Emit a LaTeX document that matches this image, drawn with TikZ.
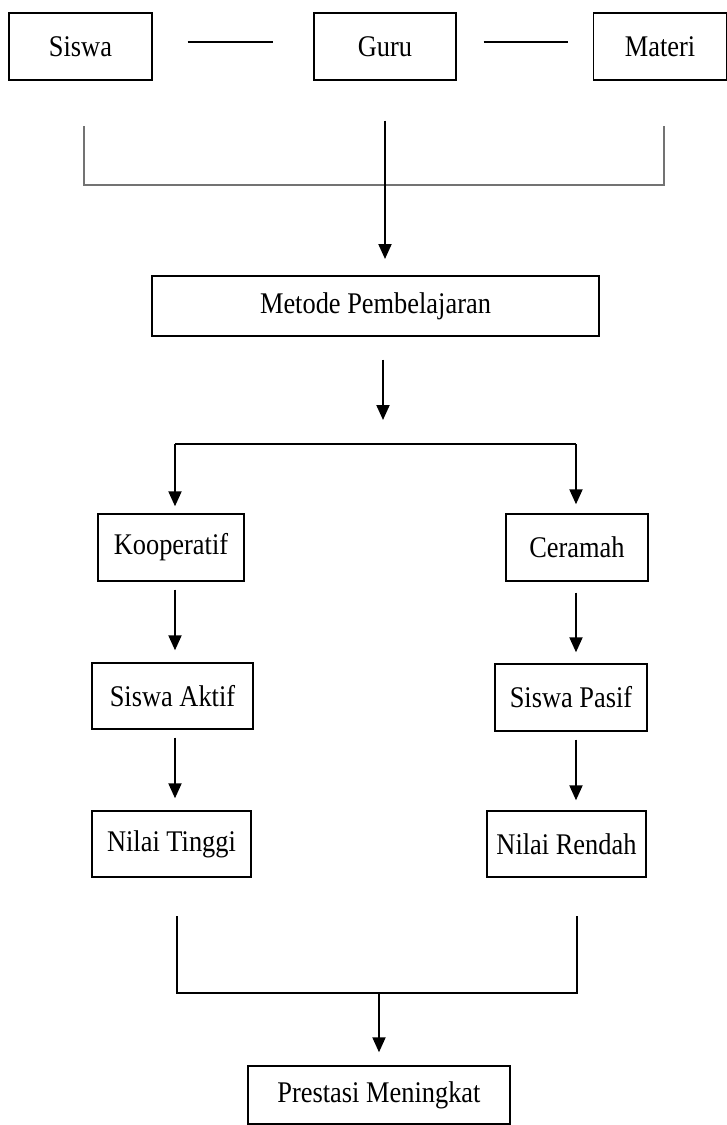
\documentclass[tikz,border=0pt]{standalone}
\usepackage{fontspec}
\setmainfont[FakeStretch=0.88]{Liberation Serif}
\usepackage{tikz}
\usetikzlibrary{arrows.meta,positioning,calc}
\tikzstyle{box} = [draw,line width=0.7pt,inner sep=1pt,align=center,font=\fontsize{15}{18}\selectfont]
\tikzstyle{line} = [line width=0.75pt]
\tikzstyle{bracket} = [line width=0.6pt,black!55]
\tikzstyle{arrow} = [line width=1pt,-{Triangle[width=6.5pt,length=7.5pt]}]

\begin{document}
\begin{tikzpicture}[x=0.5pt,y=-0.5pt]
\useasboundingbox (0,0) rectangle (727,1125);
% baris atas
\node[box,minimum width=71.5pt,minimum height=33.5pt] (siswa) at (80.5,46.5) {Siswa};
\node[box,minimum width=71pt,minimum height=33.5pt] (guru) at (385,46.5) {Guru};
\node[box,minimum width=66.5pt,minimum height=33.5pt] (materi) at (660,46.5) {Materi};
\draw[line,shorten <=17.5pt,shorten >=20pt] ([yshift=2.25pt]siswa.east) -- ([yshift=2.25pt]guru.west);
\draw[line,shorten <=13.5pt,shorten >=12.5pt] ([yshift=2.25pt]guru.east) -- ([yshift=2.25pt]materi.west);
% kurung atas
\coordinate (kiriatas) at (84,126);
\coordinate (kananatas) at (664,126);
\draw[bracket] (kiriatas) |- (kananatas |- 0,185) -- (kananatas);
\draw[arrow,shorten <=20pt,shorten >=8.5pt] (guru.south) -- (guru.south |- 0,276);
% metode
\node[box,minimum width=223.5pt,minimum height=30pt] (metode) at (375.5,306) {Metode Pembelajaran};
\coordinate (cabang) at (383,444);
\coordinate (cabangkiri) at (175,444);
\coordinate (cabangkanan) at (576,444);
\draw[arrow,shorten <=11.5pt,shorten >=12pt] (metode.south -| cabang) -- (cabang);
\draw[line] (cabangkiri) -- (cabangkanan);
% dua cabang
\node[box,minimum width=73pt,minimum height=33.5pt] (kooperatif) at (171,547.5) {Kooperatif};
\node[box,minimum width=71pt,minimum height=33.5pt] (ceramah) at (577,547.5) {Ceramah};
\draw[arrow,shorten >=3.5pt] (cabangkiri) -- (cabangkiri |- kooperatif.north);
\draw[arrow,shorten >=4.5pt] (cabangkanan) -- (cabangkanan |- ceramah.north);
\node[box,minimum width=80.5pt,minimum height=33pt] (aktif) at (172.5,696) {Siswa Aktif};
\node[box,minimum width=76pt,minimum height=33.5pt] (pasif) at (571,697.5) {Siswa Pasif};
\node[box,minimum width=79.5pt,minimum height=33pt] (tinggi) at (171.5,844) {Nilai Tinggi};
\node[box,minimum width=79.5pt,minimum height=33pt] (rendah) at (566.5,844) {Nilai Rendah};
\coordinate (kolomkiri) at (175,0);
\coordinate (kolomkanan) at (576,0);
\draw[arrow,shorten <=4pt,shorten >=6pt] (kooperatif.south -| kolomkiri) -- (aktif.north -| kolomkiri);
\draw[arrow,shorten <=5.5pt,shorten >=5.5pt] (ceramah.south -| kolomkanan) -- (pasif.north -| kolomkanan);
\draw[arrow,shorten <=4pt,shorten >=6pt] (aktif.south -| kolomkiri) -- (tinggi.north -| kolomkiri);
\draw[arrow,shorten <=4pt,shorten >=5pt] (pasif.south -| kolomkanan) -- (rendah.north -| kolomkanan);
% kurung bawah
\coordinate (kiribawah) at (177,916);
\coordinate (kananbawah) at (577,916);
\draw[line] (kiribawah) |- (kananbawah |- 0,993) -- (kananbawah);
\node[box,minimum width=131pt,minimum height=29pt] (prestasi) at (379,1095) {Prestasi Meningkat};
\draw[arrow,shorten >=6.5pt] (prestasi.north |- 0,992) -- (prestasi.north);
\end{tikzpicture}
\end{document}
